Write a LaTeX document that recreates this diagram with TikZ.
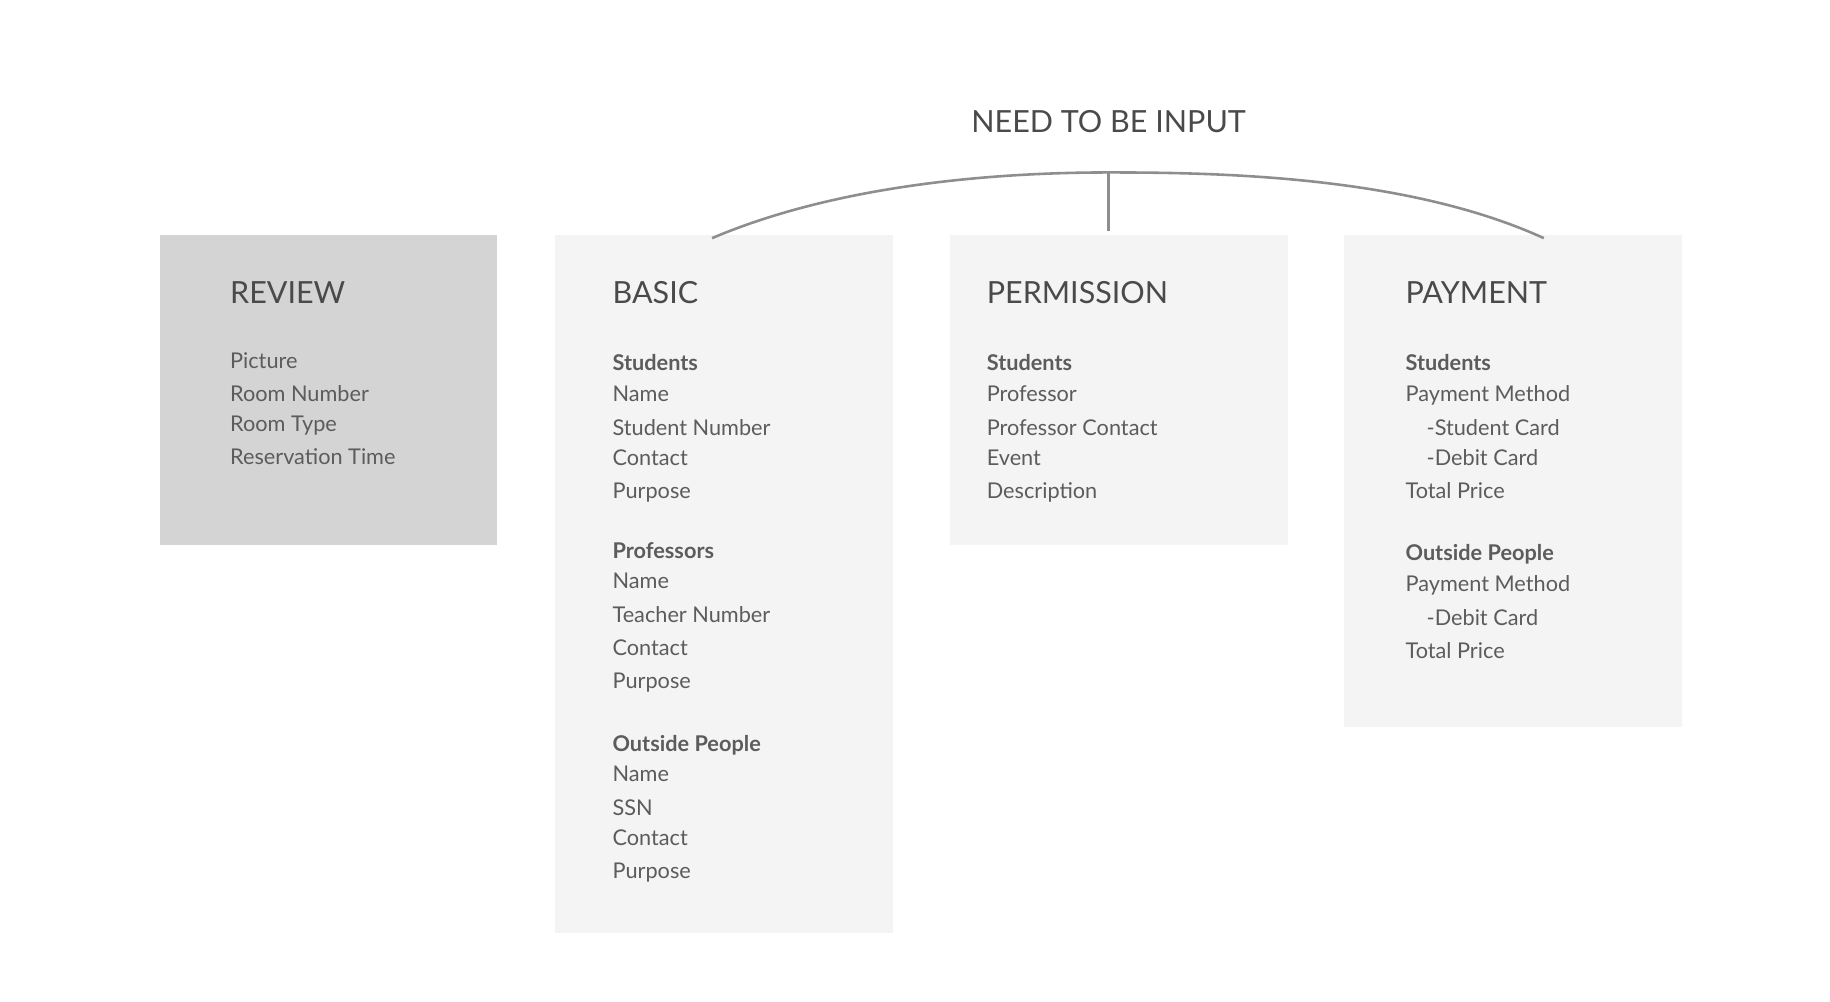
\documentclass[tikz,border=0pt]{standalone}
\usepackage{fontspec}
\setmainfont{Lato}
\definecolor{reviewfill}{HTML}{D4D4D4}
\definecolor{boxfill}{HTML}{F4F4F4}
\definecolor{inktext}{HTML}{4A4A4A}
\definecolor{linkline}{HTML}{8E8E8E}
\begin{document}
\begin{tikzpicture}[x=1pt,y=-1pt,
    panel/.style={fill=boxfill,draw=none},
    heading/.style={anchor=base west,inner sep=0pt,text=inktext,font=\fontsize{26}{30}\selectfont},
    entry/.style={anchor=base west,inner sep=0pt,text=inktext!90,font=\fontsize{18.5}{22}\selectfont},
    group/.style={entry,font=\fontsize{18.5}{22}\selectfont\bfseries}]

       \useasboundingbox[fill=white] (0,0) rectangle (1560,854);

       % panels
       \fill[reviewfill] (136,200) rectangle (424,465);
       \fill[panel] (473,200) rectangle (761,795);
       \fill[panel] (810,200) rectangle (1098,465);
       \fill[panel] (1146,200) rectangle (1434,620);

       % headings
       \node[heading] (review) at (196,259) {REVIEW};
       \node[heading] (basic) at (522,259) {BASIC};
       \node[heading] (permission) at (841,259) {PERMISSION};
       \node[heading] (payment) at (1198,259) {PAYMENT};
       \node[heading,anchor=base] (input) at (945,113) {NEED TO BE INPUT};

       % review
       \foreach \t/\y [count=\i] in {Picture/314, Room Number/342, Room Type/368, Reservation Time/396}
         \node[entry] (review-\i) at (196,\y) {\t};

       % basic
       \foreach \t/\y [count=\i] in {Students/316, Professors/476, Outside People/641}
         \node[group] (basic-g\i) at (522,\y) {\t};
       \foreach \t/\y [count=\i] in {Name/342, Student Number/371, Contact/397, Purpose/425,
                                    Name/502, Teacher Number/531, Contact/559, Purpose/587,
                                    Name/666, SSN/695, Contact/721, Purpose/749}
         \node[entry] (basic-\i) at (522,\y) {\t};

       % permission
       \node[group] (permission-g1) at (841,316) {Students};
       \foreach \t/\y [count=\i] in {Professor/342, Professor Contact/371, Event/397, Description/425}
         \node[entry] (permission-\i) at (841,\y) {\t};

       % payment
       \node[group] (payment-g1) at (1198,316) {Students};
       \node[group] (payment-g2) at (1198,478) {Outside People};
       \foreach \t/\x/\y [count=\i] in {Payment Method/1198/342, -Student Card/1216/371, -Debit Card/1216/397,
                                       Total Price/1198/425, Payment Method/1198/504, -Debit Card/1216/533,
                                       Total Price/1198/561}
         \node[entry] (payment-\i) at (\x,\y) {\t};

       % bracket
       \coordinate (top) at (945,147);
       \coordinate (left) at (607,203);
       \coordinate (right) at (1316,203);
       \coordinate (mid) at (945,197);
       \draw[linkline,line width=2.2pt] (left) .. controls (720,155) and (860,147) .. (top)
         .. controls (1040,147) and (1200,150) .. (right);
       \draw[linkline,line width=2.2pt] (top) -- (mid);
     \end{tikzpicture}
\end{document}
